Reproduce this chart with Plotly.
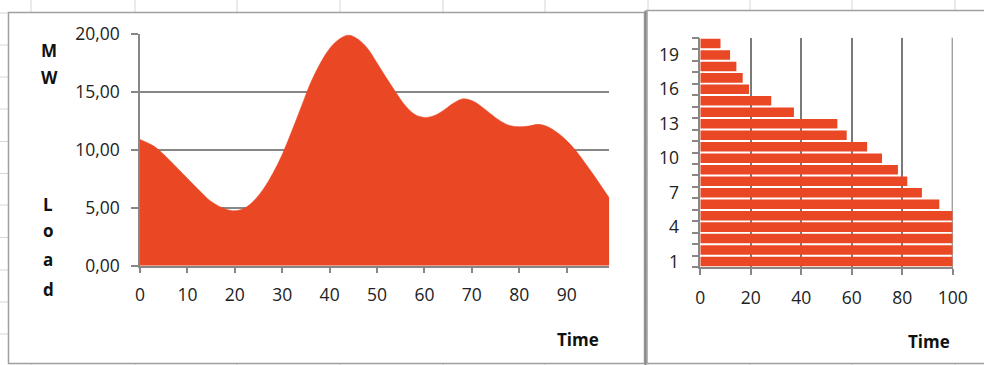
import plotly.graph_objects as go

# ---------------- data ----------------
load_time = [0, 3, 6, 9, 12, 15, 18, 20, 22, 24, 26, 28, 30, 32, 34, 36, 38, 40, 42, 44,
             46, 48, 50, 52, 54, 56, 58, 60, 62, 64, 66, 68, 70, 72, 74, 76, 78, 80, 82,
             84, 86, 88, 90, 92, 94, 96, 98, 99]
load_mw = [10.9, 10.3, 9.2, 7.95, 6.7, 5.55, 4.9, 4.75, 4.95, 5.6, 6.6, 7.95, 9.6, 11.6,
           13.7, 15.8, 17.45, 18.75, 19.55, 19.9, 19.55, 18.75, 17.5, 16.2, 14.95, 13.8, 13.05,
           12.8, 12.95, 13.4, 14.0, 14.4, 14.25, 13.75, 13.1, 12.5, 12.1, 12.0, 12.05, 12.2,
           12.0, 11.5, 10.8, 9.9, 8.8, 7.65, 6.45, 5.85]

levels = list(range(1, 21))
duration = [100, 100, 100, 100, 100, 94.7, 87.8, 82, 78.3, 72, 66.1, 58, 54.3, 37.1, 28.1,
            19.3, 16.8, 14.3, 11.8, 8]

left_yticks = [0, 5, 10, 15, 20]
left_xticks = [0, 10, 20, 30, 40, 50, 60, 70, 80, 90]
right_xticks = [0, 20, 40, 60, 80, 100]
right_ytick_labels = [1, 4, 7, 10, 13, 16, 19]
ytitle_letters = ["M", "W", "L", "o", "a", "d"]
x_title = "Time"

# ---------------- style ----------------
W, H = 984, 365
ORANGE = "#EA4724"
GRID = "#878787"
TXT = "#222222"
FONT = "Open Sans"


def px(x):
    return x / W


def py(y):
    return 1 - y / H


fig = go.Figure()

fig.add_trace(go.Scatter(
    x=load_time, y=load_mw, mode="lines",
    line=dict(shape="spline", smoothing=1.0, width=0.5, color=ORANGE),
    fill="tozeroy", fillcolor=ORANGE, hoverinfo="skip",
    xaxis="x", yaxis="y", showlegend=False))

fig.add_trace(go.Bar(
    x=duration, y=levels, orientation="h",
    marker=dict(color=ORANGE, line=dict(width=0)),
    xaxis="x2", yaxis="y2", showlegend=False))

# background sheet grid + chart frames
shapes = []
for gx in [31, 135, 237, 340, 443, 545, 648, 750, 852, 955]:
    shapes.append(dict(type="line", xref="paper", yref="paper", x0=px(gx), x1=px(gx),
                       y0=0, y1=1, line=dict(color="#d6d6d6", width=1), layer="below"))
for gy in [13, 45, 77, 109, 141.5, 173.5, 205, 237.5, 270, 302, 334]:
    shapes.append(dict(type="line", xref="paper", yref="paper", x0=0, x1=1,
                       y0=py(gy), y1=py(gy), line=dict(color="#d6d6d6", width=1), layer="below"))
shapes.append(dict(type="rect", xref="paper", yref="paper", x0=px(8.5), x1=px(644.5),
                   y0=py(363.5), y1=py(12.5), fillcolor="white",
                   line=dict(color="#a0a0a0", width=1.5), layer="below"))
shapes.append(dict(type="rect", xref="paper", yref="paper", x0=px(647), x1=px(995),
                   y0=py(363.5), y1=py(10.5), fillcolor="white",
                   line=dict(color="#a0a0a0", width=1.5), layer="below"))
shapes.append(dict(type="line", xref="paper", yref="paper", x0=px(645.5), x1=px(645.5),
                   y0=py(365), y1=py(10.5), line=dict(color="#8a8a8a", width=2), layer="below"))
# gridline at the right end of the bar chart's time axis
shapes.append(dict(type="line", xref="x2", yref="y2 domain", x0=right_xticks[-1],
                   x1=right_xticks[-1], y0=0, y1=1,
                   line=dict(color="#7a7a7a", width=2), layer="below"))

annotations = []
letter_pos = [(48.5, 50), (49, 77.5), (47.5, 204), (48, 231), (48, 259.5), (48, 289)]
for letter, (lx, ly) in zip(ytitle_letters, letter_pos):
    annotations.append(dict(text=letter, xref="paper", yref="paper", x=px(lx), y=py(ly),
                            xanchor="center", yanchor="middle", showarrow=False,
                            font=dict(family=FONT, size=17, color="#111", weight="bold")))
for tx, ty in [(577.5, 339), (929, 341)]:
    annotations.append(dict(text=x_title, xref="paper", yref="paper", x=px(tx), y=py(ty),
                            xanchor="center", yanchor="middle", showarrow=False,
                            font=dict(family=FONT, size=17, color="#111", weight="bold")))

tickfont = dict(family=FONT, size=17.5, color=TXT)

fig.update_layout(
    width=W, height=H,
    margin=dict(l=0, r=0, t=0, b=0, autoexpand=False),
    paper_bgcolor="white", plot_bgcolor="rgba(0,0,0,0)",
    separators=", ",
    bargap=0.17,
    shapes=shapes, annotations=annotations,
    xaxis=dict(domain=[px(140), px(609.3)], range=[0, 99], anchor="y", automargin=False,
               tickvals=left_xticks, ticks="outside", ticklen=6, tickwidth=1.5,
               tickcolor=GRID, showline=True, linecolor=GRID, linewidth=1.5,
               showgrid=False, zeroline=False, tickfont=tickfont, ticklabelstandoff=7),
    yaxis=dict(domain=[py(265.7), py(34)], range=[0, 20], anchor="x", automargin=False,
               tickvals=left_yticks, tickformat=".2f", ticks="outside", ticklen=7,
               tickwidth=1.5, tickcolor=GRID, showline=True, linecolor=GRID, linewidth=1.5,
               showgrid=True, gridcolor=GRID, gridwidth=1.5, zeroline=False,
               tickfont=tickfont, ticklabelstandoff=8),
    xaxis2=dict(domain=[px(700.3), px(952.7)], range=[0, 100], anchor="y2", automargin=False,
                tickvals=right_xticks, ticks="outside", ticklen=6, tickwidth=1.5,
                tickcolor=GRID, showline=True, linecolor=GRID, linewidth=1.5,
                showgrid=True, gridcolor="#7a7a7a", gridwidth=2, zeroline=False,
                tickfont=tickfont, ticklabelstandoff=8),
    yaxis2=dict(domain=[py(267.3), py(37.7)], range=[0.5, 20.5], anchor="x2", automargin=False,
                tickvals=right_ytick_labels, ticks="", showline=True, linecolor=GRID,
                linewidth=1.5, showgrid=False, zeroline=False, tickfont=tickfont,
                ticklabelstandoff=16,
                minor=dict(ticks="outside", tickmode="linear", tick0=0.5, dtick=1,
                           ticklen=7, tickwidth=1.5, tickcolor=GRID, showgrid=False)),
)

fig.write_html(
    "out.html",
    post_script="document.body.style.margin='0';document.body.style.padding='0';"
                "document.body.style.overflow='hidden';",
)
